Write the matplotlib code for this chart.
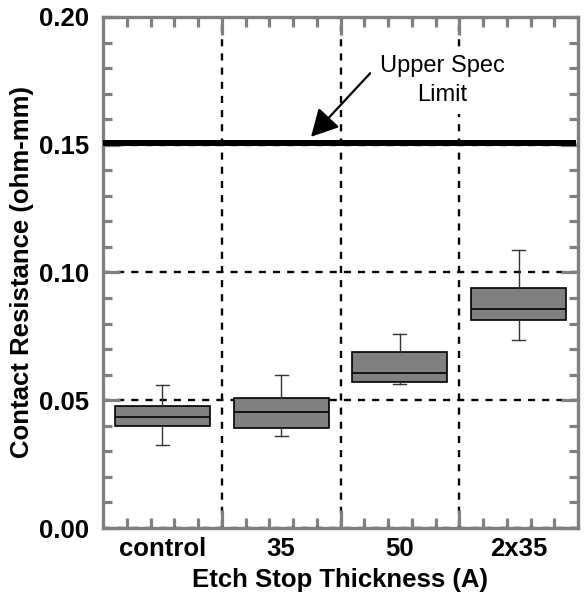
import matplotlib.pyplot as plt
from matplotlib.ticker import MultipleLocator, FixedLocator

plt.rcParams['font.family'] = ['Liberation Sans', 'DejaVu Sans']
plt.rcParams['font.weight'] = 'bold'

categories = ['control', '35', '50', '2x35']
whisker_low = [0.0324, 0.0360, 0.0563, 0.0734]
box_low = [0.0398, 0.0390, 0.0570, 0.0813]
medians = [0.0434, 0.0453, 0.0605, 0.0859]
box_high = [0.0477, 0.0508, 0.0688, 0.0938]
whisker_high = [0.0559, 0.0598, 0.0758, 0.1090]
spec_limit = 0.1508

fig = plt.figure(figsize=(5.84, 6.01), dpi=100)
ax = fig.add_axes([103 / 584, 1 - 528 / 601, 475 / 584, 511 / 601])

stats = []
for i, name in enumerate(categories):
    stats.append({'label': name, 'whislo': whisker_low[i], 'q1': box_low[i], 'med': medians[i],
                  'q3': box_high[i], 'whishi': whisker_high[i], 'fliers': []})

positions = [i + 0.5 for i in range(len(categories))]
ax.bxp(stats, positions=positions, widths=0.8, patch_artist=True, showfliers=False,
       boxprops=dict(facecolor='#808080', edgecolor='black', linewidth=1.2),
       medianprops=dict(color='black', linewidth=1.2),
       whiskerprops=dict(color='#333333', linewidth=1),
       capprops=dict(color='#333333', linewidth=1), capwidths=0.11)

# spec limit line and its label
ax.axhline(spec_limit, color='black', linewidth=4.3, xmin=0.003, xmax=0.99, zorder=4)
ax.annotate('', xy=(1.752, 0.1531), xytext=(2.25, 0.178),
            arrowprops=dict(arrowstyle='-|>,head_length=0.75,head_width=0.4', color='black',
                            lw=1.6, mutation_scale=22, shrinkA=0, shrinkB=0), zorder=5)
ax.text(2.855, 0.1752, 'Upper Spec\nLimit', ha='center', va='center', fontsize=17,
        fontweight='normal', linespacing=1.4, zorder=5,
        bbox=dict(facecolor='white', edgecolor='none', pad=6))

ax.set_xlim(0, 4)
ax.set_ylim(0, 0.2)

ax.xaxis.set_major_locator(FixedLocator([1, 2, 3]))
ax.xaxis.set_minor_locator(FixedLocator([k / 5 for k in range(1, 20) if k % 5 != 0]))
ax.yaxis.set_major_locator(MultipleLocator(0.05))
ax.yaxis.set_minor_locator(MultipleLocator(0.01))
ax.set_xticklabels([])
ax.set_yticklabels(['%.2f' % v for v in ax.get_yticks()])
for p, name in zip(positions, categories):
    ax.text(p, -0.0035, name, ha='center', va='top', fontsize=18.5, fontweight='bold')

ax.grid(True, which='major', color='black', linestyle=(0, (3, 3)), linewidth=1.7)
ax.set_axisbelow(True)

ax.tick_params(axis='both', which='both', direction='in', color='#808080', width=2.3,
               top=True, right=True, labelsize=18.5)
ax.tick_params(axis='y', which='major', length=12.5, pad=10)
ax.tick_params(axis='y', which='minor', length=6.5)
ax.tick_params(axis='x', which='major', length=13)
ax.tick_params(axis='x', which='minor', length=7)
for s in ax.spines.values():
    s.set_color('#808080')
    s.set_linewidth(2.4)

ax.set_xlabel('Etch Stop Thickness (A)', fontsize=18.5, fontweight='bold')
ax.xaxis.set_label_coords(0.5, -0.078)
ax.set_ylabel('Contact Resistance (ohm-mm)', fontsize=18.5, fontweight='bold')
ax.yaxis.set_label_coords(-0.146, 0.5)

plt.savefig('out.png', dpi=100)
